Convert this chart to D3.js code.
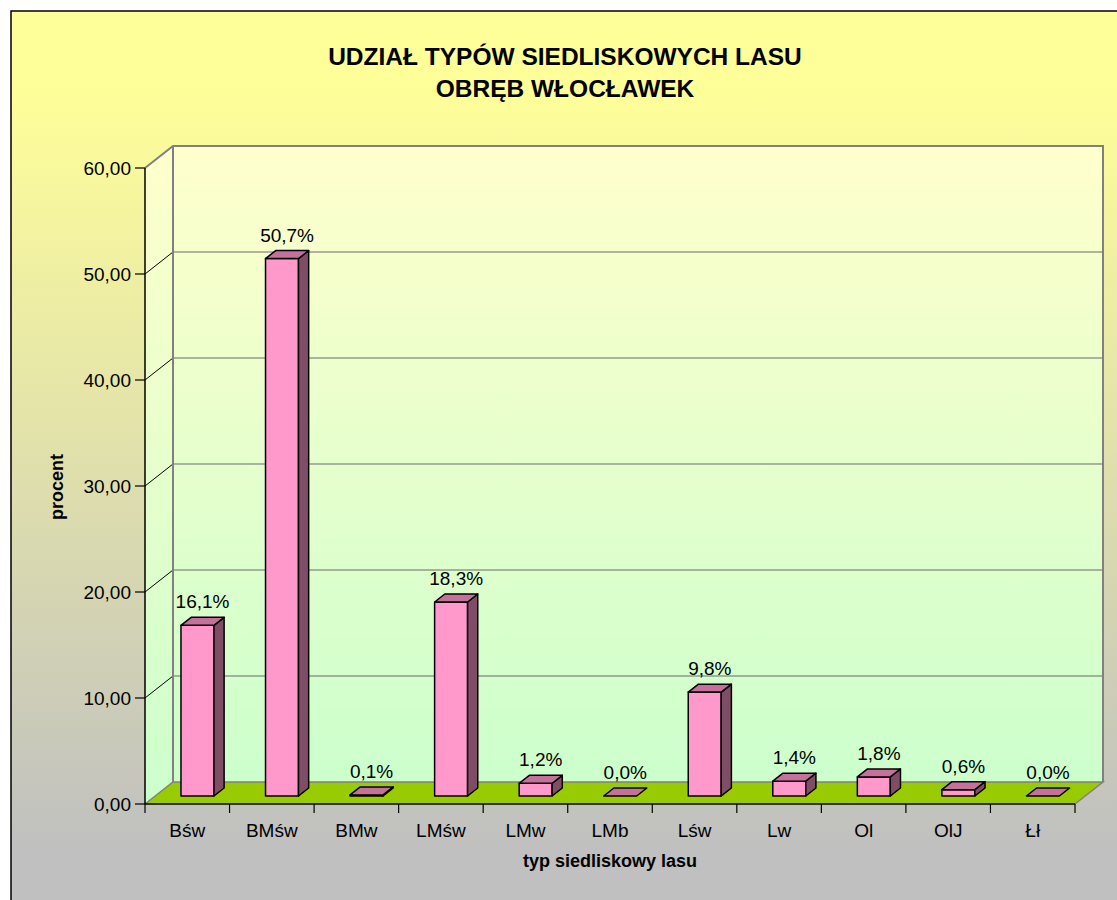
<!DOCTYPE html>
<html>
<head>
<meta charset="utf-8">
<script src="https://cdn.jsdelivr.net/npm/d3@7"></script>
<style>
  body { margin: 0; background: #fff; }
  svg { display: block; font-family: Arial, "Liberation Sans", sans-serif; }
</style>
</head>
<body>
<div id="chart"></div>
<script>
const categories = ["Bśw", "BMśw", "BMw", "LMśw", "LMw", "LMb", "Lśw", "Lw", "Ol", "OlJ", "Łł"];
const values = [16.1, 50.7, 0.1, 18.3, 1.2, 0.0, 9.8, 1.4, 1.8, 0.6, 0.0];
const labels = ["16,1%", "50,7%", "0,1%", "18,3%", "1,2%", "0,0%", "9,8%", "1,4%", "1,8%", "0,6%", "0,0%"];
const yTicks = [0, 10, 20, 30, 40, 50, 60];

const width = 1117, height = 900;
const plotLeft = 145, plotRight = 1075, plotBottom = 804, plotTop = 168;
const depthX = 28, depthY = 22;          // 3d depth offset of the back wall
const d0 = 0.364, d1 = 0.727;            // bar depth range (0 = front, 1 = back)

const svg = d3.select("#chart").append("svg")
  .attr("width", width)
  .attr("height", height);

const defs = svg.append("defs");
const bg = defs.append("linearGradient").attr("id", "bg").attr("x1", 0).attr("y1", 0).attr("x2", 0).attr("y2", 1);
bg.append("stop").attr("offset", "0.08").attr("stop-color", "#FFFF99");
bg.append("stop").attr("offset", "0.92").attr("stop-color", "#C0C0C0");
const wall = defs.append("linearGradient").attr("id", "wall").attr("x1", 0).attr("y1", 0).attr("x2", 0).attr("y2", 1);
wall.append("stop").attr("offset", "0").attr("stop-color", "#FFFFCC");
wall.append("stop").attr("offset", "1").attr("stop-color", "#CCFFCC");

// chart area background + frame
svg.append("rect")
  .attr("x", 11).attr("y", 11).attr("width", 1130).attr("height", 910)
  .attr("fill", "url(#bg)").attr("stroke", "#000").attr("stroke-width", 1.5);

const x = d3.scaleBand().domain(categories).range([plotLeft, plotRight]).padding(0);
const y = d3.scaleLinear().domain([0, 60]).range([plotBottom, plotTop]);

// project a front point into depth
const P = (px, py, d) => [px + d * depthX, py - d * depthY];
const poly = pts => "M" + pts.map(p => p.join(",")).join("L") + "Z";

// back wall
svg.append("rect")
  .attr("x", plotLeft + depthX).attr("y", plotTop - depthY)
  .attr("width", plotRight - plotLeft).attr("height", plotBottom - plotTop)
  .attr("fill", "url(#wall)");

// side wall
svg.append("path")
  .attr("d", poly([[plotLeft, plotTop], P(plotLeft, plotTop, 1), P(plotLeft, plotBottom, 1), [plotLeft, plotBottom]]))
  .attr("fill", "url(#wall)");

// floor
svg.append("path")
  .attr("d", poly([[plotLeft, plotBottom], P(plotLeft, plotBottom, 1), P(plotRight, plotBottom, 1), [plotRight, plotBottom]]))
  .attr("fill", "#99CC00");

// gridlines on back wall and side wall
const inner = yTicks.filter(v => v > 0 && v < 60);
const grid = svg.append("g");
grid.selectAll("line.back")
  .data(inner)
  .join("line")
  .attr("class", "back")
  .attr("x1", plotLeft + depthX).attr("x2", plotRight + depthX)
  .attr("y1", d => y(d) - depthY).attr("y2", d => y(d) - depthY)
  .attr("stroke", "#6b6b6b").attr("stroke-width", 1.2);
grid.selectAll("line.side")
  .data(inner)
  .join("line")
  .attr("class", "side")
  .attr("x1", plotLeft).attr("x2", plotLeft + depthX)
  .attr("y1", d => y(d)).attr("y2", d => y(d) - depthY)
  .attr("stroke", "#000").attr("stroke-width", 1);

// wall borders
svg.append("path")
  .attr("d", `M${plotLeft},${plotTop}L${plotLeft + depthX},${plotTop - depthY}L${plotRight + depthX},${plotTop - depthY}L${plotRight + depthX},${plotBottom - depthY}`)
  .attr("fill", "none").attr("stroke", "#808080").attr("stroke-width", 2);
svg.append("path")
  .attr("d", `M${plotLeft},${plotBottom}L${plotLeft + depthX},${plotBottom - depthY}L${plotRight + depthX},${plotBottom - depthY}L${plotRight},${plotBottom}`)
  .attr("fill", "none").attr("stroke", "#808080").attr("stroke-width", 1.5);
svg.append("line")
  .attr("x1", plotLeft + depthX).attr("x2", plotLeft + depthX)
  .attr("y1", plotTop - depthY).attr("y2", plotBottom - depthY)
  .attr("stroke", "#808080").attr("stroke-width", 2);

// y axis
const yAxis = svg.append("g");
yAxis.append("line")
  .attr("x1", plotLeft).attr("x2", plotLeft).attr("y1", plotTop).attr("y2", plotBottom)
  .attr("stroke", "#000").attr("stroke-width", 1.5);
yAxis.selectAll("line.tick")
  .data(yTicks)
  .join("line")
  .attr("class", "tick")
  .attr("x1", plotLeft - 10).attr("x2", plotLeft)
  .attr("y1", d => y(d)).attr("y2", d => y(d))
  .attr("stroke", "#000").attr("stroke-width", 1.2);
yAxis.selectAll("text")
  .data(yTicks)
  .join("text")
  .attr("x", plotLeft - 14)
  .attr("y", d => y(d))
  .attr("dy", "0.35em")
  .attr("text-anchor", "end")
  .attr("font-size", 19)
  .text(d => d3.format(".2f")(d).replace(".", ","));

// x axis
const xAxis = svg.append("g");
xAxis.append("line")
  .attr("x1", plotLeft).attr("x2", plotRight).attr("y1", plotBottom).attr("y2", plotBottom)
  .attr("stroke", "#000").attr("stroke-width", 1.5);
xAxis.selectAll("line.tick")
  .data(d3.range(categories.length + 1))
  .join("line")
  .attr("class", "tick")
  .attr("x1", i => plotLeft + i * x.bandwidth()).attr("x2", i => plotLeft + i * x.bandwidth())
  .attr("y1", plotBottom).attr("y2", plotBottom + 9)
  .attr("stroke", "#000").attr("stroke-width", 1.2);
xAxis.selectAll("text")
  .data(categories)
  .join("text")
  .attr("x", d => x(d) + x.bandwidth() / 2)
  .attr("y", 837)
  .attr("text-anchor", "middle")
  .attr("font-size", 19)
  .text(d => d);

// 3d bars
const barW = x.bandwidth() * 0.39;
const bars = svg.append("g")
  .selectAll("g")
  .data(categories.map((c, i) => ({ c, v: values[i], label: labels[i] })))
  .join("g");

bars.each(function (d) {
  const g = d3.select(this);
  const xl = x(d.c) + x.bandwidth() / 2 - barW / 2;
  const xr = xl + barW;
  const yt = y(d.v), yb = y(0);
  const fl = P(xl, yb, d0), fr = P(xr, yb, d0), tl = P(xl, yt, d0), tr = P(xr, yt, d0);
  const btl = P(xl, yt, d1), btr = P(xr, yt, d1), bbr = P(xr, yb, d1);
  if (d.v > 0) {
    g.append("path").attr("d", poly([tl, tr, fr, fl]))
      .attr("fill", "#FF99CC").attr("stroke", "#000").attr("stroke-width", 1.5).attr("stroke-linejoin", "round");
    g.append("path").attr("d", poly([tr, btr, bbr, fr]))
      .attr("fill", "#804D66").attr("stroke", "#000").attr("stroke-width", 1.5).attr("stroke-linejoin", "round");
  }
  g.append("path").attr("d", poly([tl, btl, btr, tr]))
    .attr("fill", "#C6709C").attr("stroke", "#000").attr("stroke-width", 1.5).attr("stroke-linejoin", "round");
  g.append("text")
    .attr("x", x(d.c) + x.bandwidth() / 2 + 0.545 * depthX)
    .attr("y", btl[1] - 9)
    .attr("text-anchor", "middle")
    .attr("font-size", 19)
    .text(d.label);
});

// titles
const title = svg.append("text")
  .attr("text-anchor", "middle")
  .attr("font-size", 24.5)
  .attr("font-weight", "bold");
title.append("tspan").attr("x", 565).attr("y", 65).text("UDZIAŁ TYPÓW SIEDLISKOWYCH LASU");
title.append("tspan").attr("x", 565).attr("y", 97).text("OBRĘB WŁOCŁAWEK");

svg.append("text")
  .attr("transform", "translate(63,487) rotate(-90)")
  .attr("text-anchor", "middle")
  .attr("font-size", 18)
  .attr("font-weight", "bold")
  .text("procent");

svg.append("text")
  .attr("x", 610)
  .attr("y", 867)
  .attr("text-anchor", "middle")
  .attr("font-size", 18)
  .attr("font-weight", "bold")
  .text("typ siedliskowy lasu");
</script>
</body>
</html>
